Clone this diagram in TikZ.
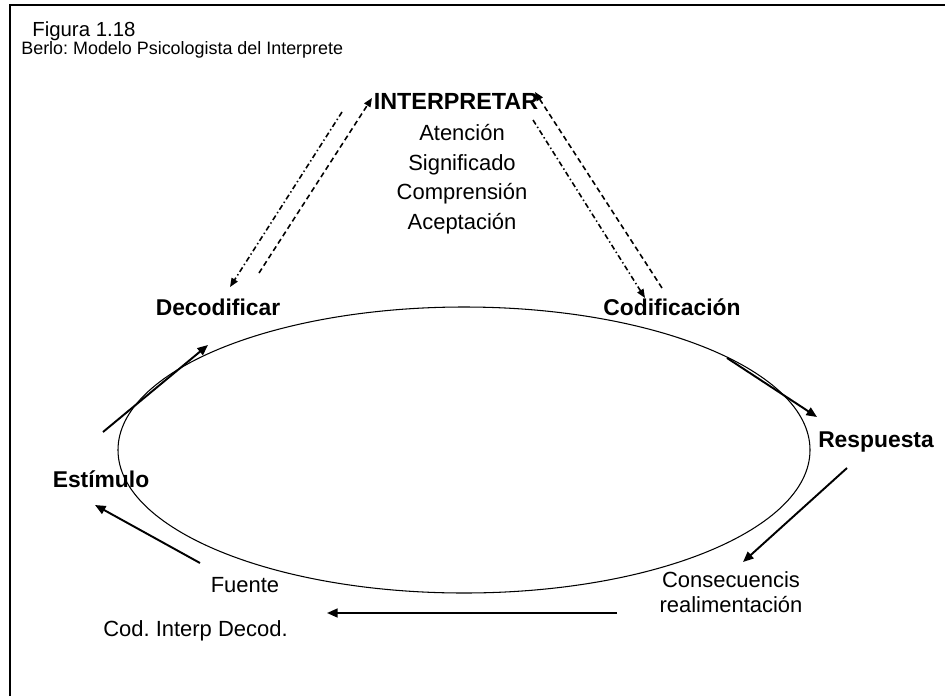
\documentclass[tikz,border=0pt]{standalone}
\usepackage{fontspec}
\setmainfont{Liberation Sans}
\usetikzlibrary{arrows.meta}
\tikzset{
  txt/.style={inner sep=0pt, font=\fontsize{12.5}{15}\selectfont},
  bold/.style={inner sep=0pt, font=\fontsize{13}{15}\selectfont\bfseries},
  flow/.style={line width=1.1pt, -{Triangle[length=6pt,width=5pt]}},
  back/.style={line width=0.9pt, dash pattern=on 3pt off 2pt, -{Triangle[length=5pt,width=4pt]}},
  forth/.style={line width=0.9pt, dash pattern=on 3pt off 1.6pt on 0.8pt off 1.6pt, -{Triangle[length=5pt,width=4pt]}}
}
\begin{document}
\frenchspacing
\begin{tikzpicture}[x=0.02cm,y=-0.02cm]
      \useasboundingbox (0,0) rectangle (945,696);
      \draw[line width=1pt] (10,696) -- (10,5) -- (945,5);
      \draw
        (32,37) node[anchor=base west, inner sep=0pt, font=\fontsize{11.6}{13}\selectfont] (fig){Figura 1.18}
        (21,55) node[anchor=base west, inner sep=0pt, font=\fontsize{10.2}{12}\selectfont] (title){Berlo: Modelo Psicologista del Interprete}
        (456,110) node[bold, anchor=base, font=\fontsize{13.3}{15}\selectfont\bfseries] (interp){INTERPRETAR}
        (462,229) node[txt, anchor=base, align=center, font=\fontsize{12.5}{16.7}\selectfont] (list){Atención\\Significado\\Comprensión\\Aceptación}
        (218,315) node[bold, anchor=base] (decod){Decodificar}
        (672,315) node[bold, anchor=base] (codif){Codificación}
        (876,447) node[bold, anchor=base] (resp){Respuesta}
        (101,487) node[bold, anchor=base] (estim){Estímulo}
        (245,592) node[txt, anchor=base] (fuente){Fuente}
        (731,612) node[txt, anchor=base, align=center, font=\fontsize{12.5}{14.2}\selectfont] (conse){Consecuencis\\realimentación}
        (288,636) node[txt, anchor=base east] (cid){Cod. Interp Decod.};
      \draw[line width=0.6pt] (464,450) ellipse [x radius=346, y radius=143];
      \coordinate (i1) at (342,112);
      \coordinate (d1) at (230,287);
      \coordinate (d2) at (259,273);
      \coordinate (i2) at (372,98);
      \coordinate (c1) at (662,288);
      \coordinate (i3) at (535,92);
      \coordinate (i4) at (533,120);
      \coordinate (c2) at (645,298);
      \coordinate (e1) at (103,432);
      \coordinate (e2) at (208,345);
      \coordinate (r1) at (727,358);
      \coordinate (r2) at (817,417);
      \coordinate (r3) at (847,468);
      \coordinate (r4) at (743,562);
      \coordinate (b1) at (617,613);
      \coordinate (b2) at (327,613);
      \coordinate (f1) at (200,563);
      \coordinate (f2) at (95,505);
      \begin{scope}
        \draw[forth] (i1) to (d1);
        \draw[back] (d2) to (i2);
        \draw[back] (c1) to (i3);
        \draw[forth] (i4) to (c2);
        \draw[flow] (e1) to (e2);
        \draw[flow] (r1) to (r2);
        \draw[flow] (r3) to (r4);
        \draw[flow] (b1) to (b2);
        \draw[flow] (f1) to (f2);
      \end{scope}
    \end{tikzpicture}
\end{document}
